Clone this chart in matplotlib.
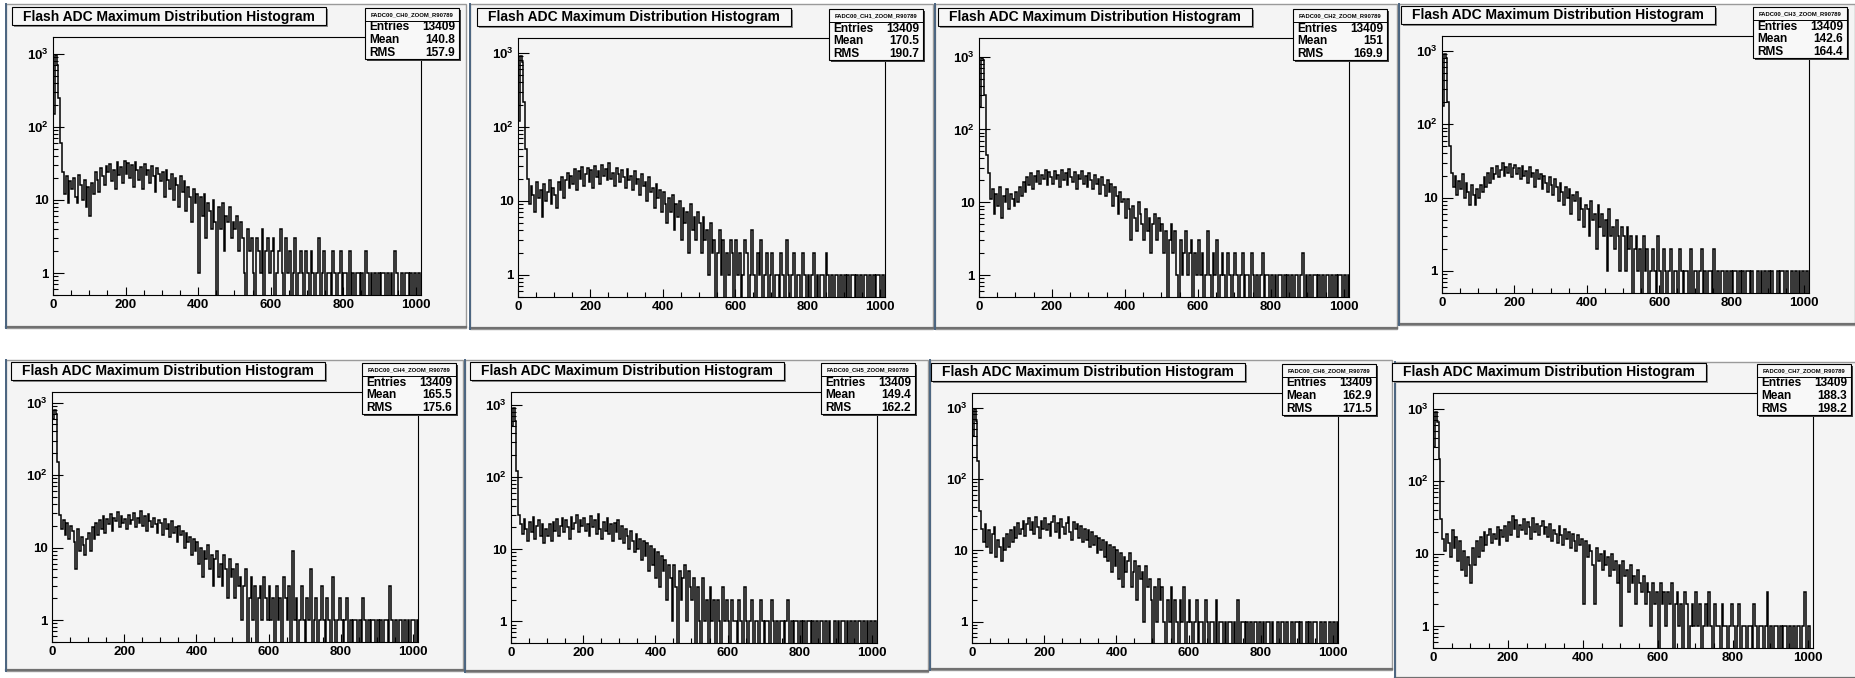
import numpy as np
import matplotlib
matplotlib.use("Agg")
import matplotlib.pyplot as plt
from matplotlib.patches import Rectangle
from matplotlib.lines import Line2D
from matplotlib.ticker import MultipleLocator, LogLocator, FuncFormatter, NullFormatter

plt.rcParams["font.family"] = ["Liberation Sans", "DejaVu Sans"]
plt.rcParams["font.weight"] = "bold"
plt.rcParams["mathtext.fontset"] = "custom"
plt.rcParams["mathtext.rm"] = "Liberation Sans:bold"
plt.rcParams["mathtext.bf"] = "Liberation Sans:bold"
plt.rcParams["mathtext.it"] = "Liberation Sans:bold"

W, H = 1855, 678
BIN_WIDTH = 5
TITLE = "Flash ADC Maximum Distribution Histogram"

# ---- data (counts per 5-ADC bin, 0..1015) ----
channels = ["CH0", "CH1", "CH2", "CH3", "CH4", "CH5", "CH6", "CH7"]
entries = ["13409", "13409", "13409", "13409", "13409", "13409", "13409", "13409"]
means = ["140.8", "170.5", "151", "142.6", "165.5", "149.4", "162.9", "188.3"]
rms = ["157.9", "190.7", "169.9", "164.4", "175.6", "162.2", "171.5", "198.2"]

counts_ch0 = [
    150, 950, 700, 250, 60, 24, 12, 21, 9, 18, 14, 20, 11, 9, 22, 16, 10, 19, 8, 15,
    6, 17, 12, 24, 19, 13, 27, 21, 16, 29, 24, 31, 18, 26, 14, 33, 22, 28, 17, 34,
    23, 32, 20, 30, 15, 33, 26, 19, 28, 14, 31, 22, 26, 17, 29, 21, 13, 27, 23, 18,
    24, 11, 26, 19, 14, 23, 10, 20, 16, 8, 21, 13, 18, 7, 15, 11, 5, 14, 9, 12,
    1, 11, 6, 12, 3, 9, 7, 4, 10, 5, 0, 8, 4, 9, 2, 6, 5, 8, 3, 5,
    4, 6, 2, 5, 3, 1, 0, 4, 2, 3, 1, 0, 3, 2, 1, 4, 0, 2, 3, 1,
    2, 3, 0, 1, 2, 4, 1, 0, 3, 1, 2, 0, 1, 3, 0, 1, 2, 1, 0, 2,
    1, 0, 2, 1, 0, 1, 3, 0, 1, 2, 0, 1, 1, 0, 2, 1, 0, 1, 2, 0,
    1, 1, 0, 2, 0, 1, 0, 1, 1, 0, 1, 0, 2, 1, 0, 1, 0, 1, 0, 1,
    0, 1, 1, 0, 1, 0, 1, 0, 2, 1, 0, 0, 1, 0, 1, 1, 0, 1, 0, 1,
    0, 1, 0,
]
counts_ch1 = [
    120, 900, 750, 220, 50, 20, 9, 16, 12, 7, 18, 11, 14, 6, 17, 10, 13, 19, 9, 15,
    12, 8, 18, 14, 21, 11, 19, 24, 15, 22, 17, 27, 14, 25, 20, 29, 16, 23, 28, 18,
    26, 15, 30, 21, 25, 17, 31, 22, 27, 19, 33, 20, 24, 16, 28, 23, 18, 26, 21, 15,
    27, 19, 22, 14, 25, 17, 20, 12, 23, 16, 18, 10, 21, 13, 15, 8, 17, 11, 14, 7,
    13, 9, 5, 11, 7, 12, 4, 9, 6, 10, 3, 8, 5, 7, 2, 9, 4, 6, 3, 7,
    5, 2, 6, 3, 4, 1, 5, 2, 3, 0, 2, 4, 1, 3, 0, 2, 1, 3, 2, 0,
    3, 1, 2, 0, 1, 3, 2, 0, 1, 4, 1, 0, 2, 1, 3, 0, 1, 2, 0, 1,
    2, 0, 1, 1, 0, 2, 1, 0, 3, 1, 0, 1, 2, 0, 1, 1, 0, 2, 1, 0,
    1, 0, 1, 2, 0, 1, 0, 1, 1, 0, 2, 1, 0, 1, 0, 1, 1, 0, 1, 0,
    1, 0, 1, 0, 1, 1, 0, 1, 0, 1, 0, 1, 1, 0, 1, 0, 1, 0, 1, 1,
    0, 1, 0,
]
counts_ch2 = [
    200, 950, 900, 300, 45, 25, 11, 15, 7, 13, 9, 16, 6, 12, 10, 15, 8, 13, 11, 9,
    14, 10, 16, 12, 19, 14, 22, 17, 25, 15, 23, 19, 27, 18, 24, 21, 28, 17, 26, 22,
    18, 27, 21, 24, 16, 28, 20, 25, 17, 29, 22, 19, 26, 15, 24, 21, 27, 18, 23, 16,
    25, 20, 15, 24, 18, 21, 13, 22, 17, 12, 20, 14, 18, 9, 16, 12, 7, 14, 10, 11,
    6, 11, 8, 3, 9, 6, 4, 10, 7, 5, 3, 8, 4, 6, 2, 5, 7, 3, 6, 4,
    5, 2, 4, 0, 3, 5, 2, 4, 1, 0, 3, 1, 2, 4, 1, 2, 3, 0, 2, 1,
    3, 1, 2, 0, 1, 4, 1, 0, 2, 1, 3, 0, 1, 2, 1, 0, 2, 1, 0, 1,
    2, 1, 0, 1, 2, 0, 1, 1, 0, 2, 1, 0, 1, 0, 1, 2, 0, 1, 1, 0,
    1, 0, 1, 0, 1, 1, 0, 1, 0, 1, 0, 1, 0, 1, 1, 0, 1, 2, 0, 1,
    0, 1, 0, 1, 1, 0, 1, 0, 1, 0, 1, 1, 0, 1, 0, 1, 0, 1, 1, 0,
    1, 0, 1,
]
counts_ch3 = [
    180, 900, 800, 200, 50, 22, 14, 20, 11, 17, 13, 21, 10, 16, 12, 8, 15, 11, 8, 13,
    10, 15, 12, 19, 14, 22, 16, 25, 18, 21, 27, 19, 24, 30, 20, 26, 22, 29, 19, 25,
    28, 21, 25, 18, 27, 20, 23, 16, 26, 19, 22, 14, 24, 18, 21, 13, 20, 16, 12, 19,
    15, 11, 18, 14, 9, 16, 12, 8, 14, 10, 13, 6, 11, 9, 12, 5, 10, 7, 4, 8,
    7, 3, 9, 5, 6, 2, 8, 4, 6, 3, 5, 1, 7, 3, 4, 2, 5, 3, 1, 4,
    3, 1, 4, 2, 3, 0, 2, 3, 1, 2, 0, 3, 1, 2, 0, 1, 2, 1, 0, 3,
    1, 0, 2, 1, 0, 1, 2, 0, 1, 1, 0, 2, 1, 0, 1, 1, 0, 2, 0, 1,
    1, 0, 1, 2, 0, 1, 0, 1, 1, 0, 2, 0, 1, 0, 1, 1, 0, 1, 0, 1,
    0, 1, 1, 0, 1, 0, 1, 0, 1, 1, 0, 1, 0, 0, 1, 0, 1, 0, 1, 0,
    1, 0, 1, 0, 0, 1, 0, 1, 1, 0, 1, 0, 0, 1, 0, 1, 0, 1, 0, 1,
    0, 1, 0,
]
counts_ch4 = [
    600, 800, 700, 150, 28, 18, 24, 15, 22, 13, 20, 17, 12, 5, 18, 9, 14, 11, 8, 13,
    16, 9, 19, 13, 22, 15, 24, 18, 27, 16, 25, 21, 29, 17, 26, 23, 31, 19, 27, 22,
    25, 18, 28, 21, 24, 30, 19, 26, 22, 32, 20, 27, 17, 29, 23, 19, 26, 21, 16, 24,
    22, 15, 25, 18, 21, 14, 23, 16, 19, 12, 20, 15, 17, 10, 16, 12, 14, 8, 13, 9,
    12, 6, 10, 4, 9, 7, 11, 5, 8, 3, 7, 9, 4, 6, 3, 8, 5, 2, 7, 4,
    5, 2, 6, 3, 4, 1, 3, 5, 0, 2, 4, 1, 3, 0, 2, 3, 1, 4, 2, 1,
    3, 1, 2, 0, 3, 1, 2, 0, 4, 2, 1, 3, 0, 9, 1, 2, 0, 1, 3, 1,
    0, 2, 1, 5, 0, 1, 2, 0, 1, 3, 1, 0, 2, 1, 0, 4, 1, 0, 1, 2,
    1, 0, 1, 2, 0, 1, 0, 1, 1, 0, 1, 0, 2, 1, 0, 1, 0, 1, 1, 0,
    1, 0, 1, 0, 1, 1, 0, 3, 1, 0, 1, 0, 1, 1, 0, 1, 0, 1, 0, 1,
    1, 0, 1,
]
counts_ch5 = [
    500, 900, 600, 120, 30, 22, 16, 26, 19, 13, 24, 17, 28, 14, 21, 25, 15, 22, 12, 19,
    15, 22, 13, 24, 18, 26, 15, 21, 27, 17, 25, 20, 14, 28, 19, 23, 30, 17, 25, 21,
    27, 18, 22, 15, 29, 20, 25, 16, 31, 19, 14, 24, 18, 27, 16, 22, 13, 23, 17, 25,
    14, 21, 12, 19, 15, 10, 18, 13, 9, 16, 10, 14, 7, 13, 8, 12, 5, 11, 6, 10,
    4, 9, 3, 8, 5, 7, 2, 6, 4, 1, 6, 3, 0, 5, 2, 4, 6, 1, 5, 3,
    2, 4, 0, 3, 1, 0, 4, 1, 2, 0, 3, 1, 2, 0, 2, 1, 0, 3, 1, 2,
    1, 0, 2, 1, 1, 0, 2, 1, 0, 3, 1, 0, 1, 2, 0, 1, 1, 0, 2, 1,
    0, 1, 1, 0, 2, 1, 0, 1, 0, 1, 1, 0, 1, 2, 0, 1, 0, 1, 1, 0,
    1, 0, 1, 0, 1, 1, 0, 1, 0, 1, 0, 1, 1, 0, 1, 0, 1, 0, 0, 1,
    0, 1, 0, 1, 1, 0, 1, 0, 1, 0, 1, 0, 1, 1, 0, 1, 0, 1, 0, 1,
    0, 1, 0,
]
counts_ch6 = [
    400, 950, 650, 180, 35, 20, 13, 23, 11, 19, 9, 17, 21, 8, 14, 11, 7, 15, 10, 17,
    11, 19, 13, 21, 15, 24, 17, 20, 26, 16, 23, 28, 19, 25, 17, 29, 21, 15, 26, 20,
    28, 19, 23, 16, 25, 30, 18, 24, 15, 27, 21, 17, 24, 29, 18, 14, 25, 20, 23, 15,
    22, 13, 20, 14, 19, 11, 18, 12, 16, 9, 15, 10, 14, 8, 13, 7, 12, 5, 11, 6,
    10, 4, 9, 3, 8, 5, 7, 9, 3, 5, 7, 2, 6, 4, 5, 1, 6, 3, 4, 2,
    0, 3, 1, 4, 2, 3, 1, 0, 2, 1, 3, 0, 2, 1, 0, 2, 1, 3, 0, 1,
    2, 1, 0, 1, 2, 0, 1, 1, 0, 2, 1, 0, 1, 1, 0, 2, 0, 1, 1, 0,
    1, 0, 1, 1, 0, 1, 0, 2, 0, 1, 1, 0, 1, 0, 1, 0, 1, 1, 0, 1,
    0, 1, 0, 1, 1, 0, 1, 0, 0, 1, 0, 1, 1, 0, 1, 0, 0, 1, 0, 1,
    1, 0, 1, 0, 0, 1, 0, 1, 0, 1, 1, 0, 0, 1, 0, 1, 0, 0, 1, 0,
    1, 0, 1,
]
counts_ch7 = [
    300, 900, 650, 200, 30, 16, 11, 19, 14, 9, 21, 12, 17, 8, 15, 6, 11, 5, 9, 7,
    4, 12, 7, 15, 9, 17, 11, 20, 13, 18, 22, 14, 19, 16, 23, 13, 21, 17, 24, 15,
    27, 18, 33, 22, 29, 17, 25, 21, 30, 19, 27, 23, 16, 31, 20, 26, 18, 24, 28, 19,
    23, 17, 26, 15, 21, 19, 14, 24, 18, 13, 22, 16, 20, 12, 19, 15, 11, 18, 13, 16,
    2, 15, 9, 13, 11, 7, 2, 12, 8, 10, 6, 11, 7, 9, 5, 10, 6, 8, 4, 7,
    1, 8, 5, 6, 3, 7, 4, 5, 2, 6, 4, 3, 5, 2, 4, 3, 1, 4, 2, 3,
    0, 4, 2, 3, 1, 3, 2, 4, 0, 2, 3, 1, 2, 0, 3, 2, 0, 1, 2, 1,
    3, 1, 2, 0, 1, 2, 1, 3, 1, 0, 2, 1, 1, 0, 2, 1, 1, 0, 1, 2,
    1, 0, 1, 2, 0, 1, 1, 0, 1, 1, 0, 2, 1, 0, 1, 1, 0, 1, 3, 0,
    1, 0, 1, 1, 0, 1, 0, 1, 1, 0, 1, 0, 1, 0, 1, 1, 0, 1, 3, 0,
    1, 0, 0,
]
all_counts = [counts_ch0, counts_ch1, counts_ch2, counts_ch3,
              counts_ch4, counts_ch5, counts_ch6, counts_ch7]

# ---- layout in reference pixels (x0, y0, x1, y1), y measured from top ----
panel_boxes = [(6, 4, 466, 328), (470, 4, 933, 329), (935, 4, 1397, 329), (1399, 4, 1855, 325),
               (6, 360, 463, 671), (465, 360, 928, 672), (930, 360, 1392, 670), (1395, 362, 1856, 679)]
frame_boxes = [(53, 37, 421, 295), (518, 38, 885, 297), (979, 38, 1349, 297), (1442, 36, 1809, 293),
               (52, 392, 418, 642), (511, 392, 877, 643), (972, 393, 1338, 643), (1433, 393, 1813, 648)]
y_tops = [1700, 1600, 1800, 1600, 1400, 1500, 1600, 1650]
X_MAX = 1014


def fx(x):
    return x / W


def fy(y):
    return 1 - y / H


def add_box(fig, x0, y0, x1, y1, face, edge, lw=0.8, z=1, shadow=None):
    if shadow:
        fig.add_artist(Rectangle((fx(x0 + 2), fy(y1 + 2)), (x1 - x0) / W, (y1 - y0) / H,
                                 transform=fig.transFigure, facecolor=shadow,
                                 edgecolor="none", zorder=z))
    fig.add_artist(Rectangle((fx(x0), fy(y1)), (x1 - x0) / W, (y1 - y0) / H,
                             transform=fig.transFigure, facecolor=face,
                             edgecolor=edge, linewidth=lw, zorder=z))


def ylabel_fmt(v, pos):
    if v < 0.99:
        return ""
    e = int(round(np.log10(v)))
    if e == 0:
        return "1"
    if e == 1:
        return "10"
    return r"$10^{%d}$" % e


def draw_panel(fig, i):
    px0, py0, px1, py1 = panel_boxes[i]
    add_box(fig, px0, py0, px1, py1, "#f4f4f4", "#9a9a9a", lw=1.0, z=-2)
    # bevel shadow at bottom of the canvas, window edge at left
    fig.add_artist(Line2D([fx(px0), fx(px1)], [fy(py1 - 1), fy(py1 - 1)],
                          transform=fig.transFigure, color="#707070", lw=1.6, zorder=-1))
    fig.add_artist(Line2D([fx(px0), fx(px0)], [fy(py0), fy(py1)],
                          transform=fig.transFigure, color="#4a6480", lw=1.4, zorder=-1))

    x0, y0, x1, y1 = frame_boxes[i]
    ax = fig.add_axes([fx(x0), fy(y1), (x1 - x0) / W, (y1 - y0) / H])
    ax.set_facecolor("none")

    counts = np.array(all_counts[i], dtype=float)
    edges = np.arange(len(counts) + 1) * BIN_WIDTH
    shown = np.where(counts > 0, counts, 0.01)  # empty bins drop to the bottom, like ROOT
    ax.stairs(shown, edges, baseline=0.01, color="black", linewidth=1.1)

    ax.set_yscale("log")
    ax.set_ylim(0.5, y_tops[i])
    ax.set_xlim(0, X_MAX)

    ax.xaxis.set_major_locator(MultipleLocator(200))
    ax.xaxis.set_minor_locator(MultipleLocator(50))
    ax.yaxis.set_major_locator(LogLocator(base=10))
    ax.yaxis.set_minor_locator(LogLocator(base=10, subs=np.arange(2, 10)))
    ax.yaxis.set_major_formatter(FuncFormatter(ylabel_fmt))
    ax.yaxis.set_minor_formatter(NullFormatter())

    ax.tick_params(which="both", direction="in", top=False, right=False,
                   labelsize=9.5, color="black", width=0.8)
    ax.tick_params(axis="x", which="major", length=6, pad=3)
    ax.tick_params(axis="x", which="minor", length=3.5)
    ax.tick_params(axis="y", which="major", length=8, pad=3)
    ax.tick_params(axis="y", which="minor", length=3.5)
    for lab in ax.get_xticklabels() + ax.get_yticklabels():
        lab.set_fontweight("bold")
    for sp in ax.spines.values():
        sp.set_linewidth(0.8)
        sp.set_color("black")

    # title box
    tx0, ty0, tx1, ty1 = x0 - 41, y0 - 30, x0 + 273, y0 - 12
    add_box(fig, tx0, ty0, tx1, ty1, "#f6f6f6", "black", z=5, shadow="#8a8a8a")
    fig.text(fx((tx0 + tx1) / 2), fy((ty0 + ty1) / 2 + 0.5), TITLE, ha="center", va="center",
             fontsize=10, fontweight="bold", zorder=6)

    # stats box
    sx1, sy0 = x1 + 38, y0 - 29
    sx0, sy1 = sx1 - 94, sy0 + 51
    add_box(fig, sx0, sy0, sx1, sy1, "#f8f8f8", "black", z=5, shadow="#404040")
    fig.add_artist(Line2D([fx(sx0), fx(sx1)], [fy(sy0 + 13), fy(sy0 + 13)],
                          transform=fig.transFigure, color="black", lw=0.7, zorder=6))
    fig.text(fx((sx0 + sx1) / 2), fy(sy0 + 6.5), "FADC00_%s_ZOOM_R90789" % channels[i],
             ha="center", va="center", fontsize=4.2, fontweight="bold", zorder=6)
    rows = [("Entries", entries[i]), ("Mean", means[i]), ("RMS", rms[i])]
    for k, (name, val) in enumerate(rows):
        yy = sy0 + 13 + 6.5 + k * 12.6
        fig.text(fx(sx0 + 4), fy(yy), name, ha="left", va="center",
                 fontsize=8.6, fontweight="bold", zorder=6)
        fig.text(fx(sx1 - 4), fy(yy), val, ha="right", va="center",
                 fontsize=8.6, fontweight="bold", zorder=6)


fig = plt.figure(figsize=(W / 100, H / 100), dpi=100)
fig.patch.set_facecolor("white")
for i in range(8):
    draw_panel(fig, i)

fig.savefig("out.png", dpi=100)
